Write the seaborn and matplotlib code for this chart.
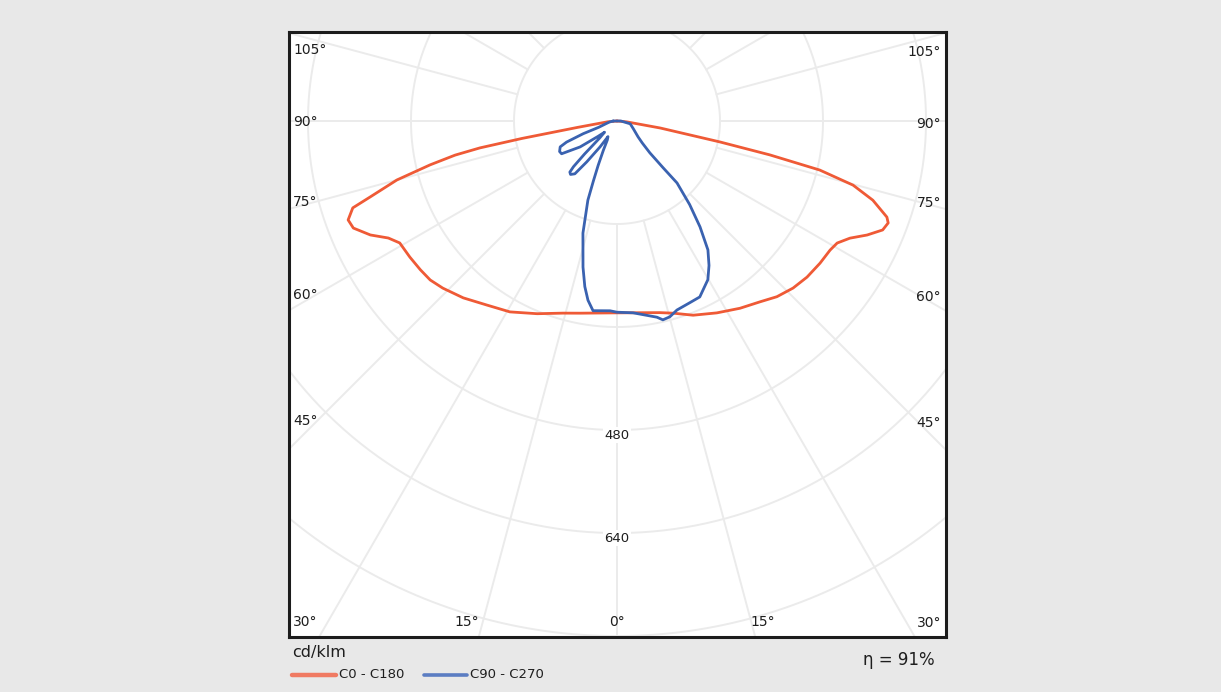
import numpy as np
import pandas as pd
import matplotlib
matplotlib.use("Agg")
import matplotlib.pyplot as plt
from matplotlib.lines import Line2D
import seaborn as sns

# ---------------- data (gamma in degrees from nadir, intensity in cd/klm) ----------------
c180_gamma = [0, 10.9, 15.7, 22.5, 29.3, 35.2, 41.0, 46.2, 49.6, 52.9, 56.7, 60.7, 62.9, 65.2,
              67.9, 69.8, 71.8, 72.9, 75.0, 76.8, 78.1, 78.9, 79.6, 80.8, 85, 90]
c180_int = [298, 304, 310, 324, 340, 350, 364, 375, 381, 383, 385, 387, 399, 422,
            442, 445, 432, 401, 354, 298, 257, 217, 150, 62, 15, 0]

c0_gamma = [0, 12.6, 16.3, 21.4, 27.5, 33.3, 38.3, 42.3, 46.5, 50.6, 55.0, 58.8, 61.0, 63.3,
            65.5, 67.7, 69.4, 70.4, 72.8, 74.8, 76.4, 77.5, 78.5, 80.8, 85, 90]
c0_int = [298, 305, 311, 324, 336, 348, 358, 369, 377, 382, 385, 387, 391, 405,
          427, 446, 450, 445, 416, 380, 324, 243, 163, 68, 15, 0]

c270_gamma = [0, 2.1, 7.2, 9.2, 11.0, 13.1, 16.9, 20.2, 21.5, 23.0, 25.0, 27.0, 30.0, 33.2, 36.5,
              38.6, 41.0, 42.7, 43.6, 44.5, 45.5, 48.0, 51.0, 54.9, 59.4, 62.0, 65.5, 67.3,
              69.4, 71.0, 76.0, 82.0, 90.0]
c270_int = [297, 295, 297, 282, 262, 233, 182, 131, 100, 75, 50, 33, 28, 48, 79,
            105, 110, 108, 98, 72, 38, 26, 38, 70, 100, 101, 97, 85,
            56, 30, 18, 12, 6]

c90_gamma = [0, 4.8, 11.5, 13.0, 15.1, 17.6, 21.9, 25.2, 29.8, 32.5, 35.2, 38.1, 41.0, 44.1, 44.6,
             45.9, 49.0, 53.0, 64.7, 78.0, 90.0]
c90_int = [297, 299, 311, 317, 315, 308, 304, 302, 284, 266, 245, 209, 172, 134, 102,
           71, 52, 41, 28, 21, 6]

rings = [160, 320, 480, 640, 800]
ring_labels = ["480", "640"]
side_labels = ["105°", "90°", "75°", "60°", "45°", "30°"]
bottom_labels = ["15°", "0°", "15°"]
legend_names = ["C0 - C180", "C90 - C270"]
efficiency_text = "η = 91%"
unit_text = "cd/klm"

RED = "#ef5a36"
BLUE = "#3a62b0"

# ---------------- build curves ----------------
def loop(left_g, left_i, right_g, right_i, name):
    lg = np.radians(left_g[::-1]); li = np.array(left_i[::-1], float)
    rg = np.radians(right_g); ri = np.array(right_i, float)
    x = np.concatenate([-li * np.sin(lg), ri * np.sin(rg), [-li[0] * np.sin(lg[0])]])
    y = np.concatenate([-li * np.cos(lg), -ri * np.cos(rg), [-li[0] * np.cos(lg[0])]])
    return pd.DataFrame({"x": x, "y": y, "curve": name, "order": np.arange(len(x))})

df_red = loop(c180_gamma, c180_int, c0_gamma, c0_int, legend_names[0])
df_blue = loop(c270_gamma, c270_int, c90_gamma, c90_int, legend_names[1])

# ---------------- figure ----------------
W, H = 1221, 692
BG = "#e8e8e8"
sns.set_theme(style="white")
plt.rcParams["font.family"] = ["DejaVu Sans"]

fig = plt.figure(figsize=(W / 100, H / 100), dpi=100, facecolor=BG)
L, R, T, B = 289, 946, 32, 637
ax = fig.add_axes([L / W, 1 - B / H, (R - L) / W, (B - T) / H])
ax.set_facecolor("white")

scale = 0.6438  # px per cd/klm
cx, cy = 617, 121
ax.set_xlim((L - cx) / scale, (R - cx) / scale)
ax.set_ylim((cy - B) / scale, (cy - T) / scale)

# grid
GRID = "#ebebeb"
t = np.linspace(0, 2 * np.pi, 721)
for r in rings:
    ax.plot(r * np.cos(t), r * np.sin(t), color=GRID, lw=1.4, zorder=1)
for a in range(0, 360, 15):
    ar = np.radians(a)
    ax.plot([rings[0] * np.sin(ar), 1200 * np.sin(ar)],
            [-rings[0] * np.cos(ar), -1200 * np.cos(ar)], color=GRID, lw=1.4, zorder=1)

# curves
sns.lineplot(data=df_red, x="x", y="y", sort=False, estimator=None, color=RED,
             lw=2.0, ax=ax, zorder=3, legend=False)
sns.lineplot(data=df_blue, x="x", y="y", sort=False, estimator=None, color=BLUE,
             lw=2.0, ax=ax, zorder=4, legend=False)

ax.set_xlabel("")
ax.set_ylabel("")
ax.set_xticks([])
ax.set_yticks([])
for s in ax.spines.values():
    s.set_visible(True)
    s.set_color("#1c1c1c")
    s.set_linewidth(2.2)

TXT = "#1e1e1e"
# ring value labels
for lab, v in zip(ring_labels, [480, 640]):
    ax.text(0, -(v + 8), lab, ha="center", va="center", fontsize=9.5, color=TXT,
            zorder=5, bbox=dict(boxstyle="square,pad=0.1", fc="white", ec="none"))

# angle labels (positions in pixels)
def axfrac(px, py):
    return (px - L) / (R - L), (B - py) / (B - T)

left_y = [50, 122, 202, 295, 421, 622]
right_y = [52, 124, 203, 297, 423, 623]
for lab, py in zip(side_labels, left_y):
    fx, fy = axfrac(293, py)
    ax.text(fx, fy, lab, transform=ax.transAxes, ha="left", va="center", fontsize=10, color=TXT)
for lab, py in zip(side_labels, right_y):
    fx, fy = axfrac(941, py)
    ax.text(fx, fy, lab, transform=ax.transAxes, ha="right", va="center", fontsize=10, color=TXT)
for lab, px in zip(bottom_labels, [467, 617, 763]):
    fx, fy = axfrac(px, 622)
    ax.text(fx, fy, lab, transform=ax.transAxes, ha="center", va="center", fontsize=10, color=TXT)

# bottom texts and legend
def ff(px, py):
    return px / W, 1 - py / H

fig.text(*ff(292, 653), unit_text, ha="left", va="center", fontsize=11.5, color=TXT)
fig.text(*ff(935, 660), efficiency_text, ha="right", va="center", fontsize=12, color=TXT)
x0, y0 = ff(292, 675); x1, _ = ff(336, 675)
fig.add_artist(Line2D([x0, x1], [y0, y0], color="#f07a62", lw=3.2, transform=fig.transFigure))
fig.text(*ff(339, 675), legend_names[0], ha="left", va="center", fontsize=9.5, color=TXT)
x0, y0 = ff(424, 675); x1, _ = ff(467, 675)
fig.add_artist(Line2D([x0, x1], [y0, y0], color="#5b7dc2", lw=2.6, transform=fig.transFigure))
fig.text(*ff(470, 675), legend_names[1], ha="left", va="center", fontsize=9.5, color=TXT)

fig.savefig("out.png", dpi=100, facecolor=BG)
